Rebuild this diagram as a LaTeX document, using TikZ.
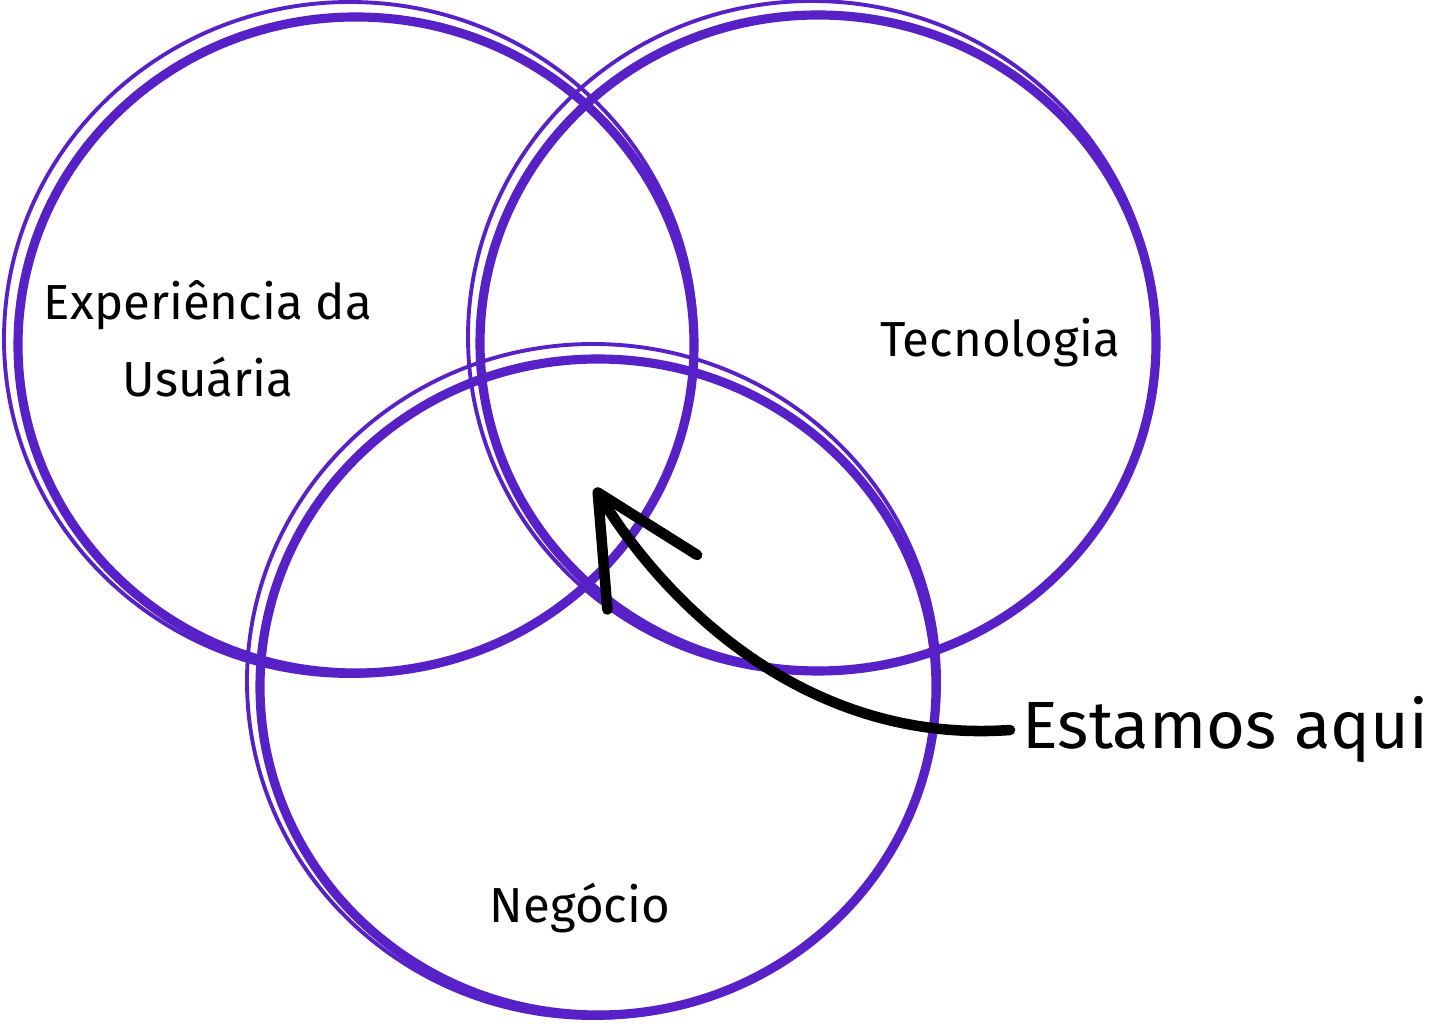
\documentclass[tikz,border=0pt]{standalone}
\usepackage{fontspec}
\setmainfont{Fira Sans}
\usetikzlibrary{shapes.geometric, arrows.meta}
\definecolor{vennpurple}{RGB}{88,33,200}
\tikzstyle{venn} = [ellipse, draw=vennpurple, line width=2.6pt, minimum width=6.76cm, minimum height=6.56cm]
\tikzstyle{sketch} = [draw=vennpurple, line width=1.1pt]
\tikzstyle{venntext} = [text=black, font=\fontsize{14}{22}\selectfont, align=center]
\tikzstyle{arrow} = [line width=3pt, line cap=round, -{Straight Barb[length=1.05cm,width=1.05cm,round]}]

\begin{document}
\begin{tikzpicture}
\useasboundingbox (0,0) rectangle (14.56,10.25);
\node (ux) [venn] at (3.56,6.80) {};
\node (tech) [venn] at (8.18,6.82) {};
\node (biz) [venn] at (5.98,3.38) {};

% second pencil strokes
\draw [sketch] (3.50,6.86) ellipse (3.46cm and 3.37cm);
\draw [sketch] (8.12,6.88) ellipse (3.44cm and 3.36cm);
\draw [sketch] (5.93,3.44) ellipse (3.46cm and 3.37cm);

\node (uxtext) [venntext] at (2.08,6.86) {Experiência da\\Usuária};
\node (techtext) [venntext] at (10.0,6.82) {Tecnologia};
\node (biztext) [venntext] at (5.80,1.17) {Negócio};
\node (aqui) [font=\fontsize{19}{22}\selectfont, anchor=west] at (10.10,2.95) {Estamos aqui};

\coordinate (here) at (5.95,5.37);
\draw [arrow] (aqui.west) .. controls (8.0,2.8) and (6.6,4.3) .. (here);
\end{tikzpicture}
\end{document}
